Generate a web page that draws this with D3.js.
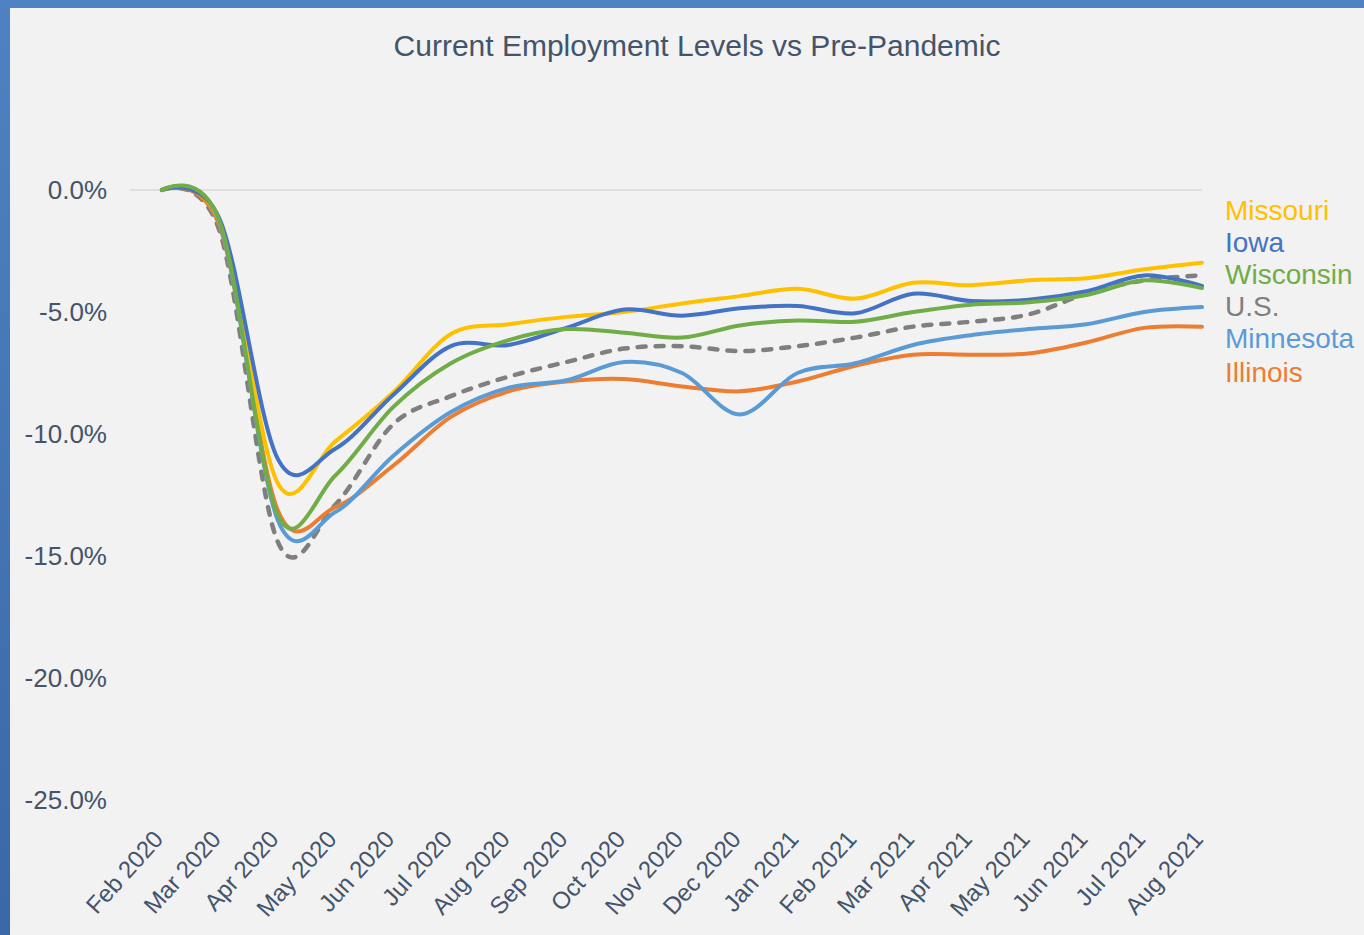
<!DOCTYPE html>
<html>
<head>
<meta charset="utf-8">
<script src="https://cdn.jsdelivr.net/npm/d3@7"></script>
<style>
  body { margin: 0; overflow: hidden; }
  svg { display: block; font-family: "Liberation Sans", Arial, sans-serif; }
</style>
</head>
<body>
<div id="chart"></div>
<script>
// Chart size
const width = 1364, height = 935;

// Data (percent change vs Feb 2020)
const months = ["Feb 2020", "Mar 2020", "Apr 2020", "May 2020", "Jun 2020", "Jul 2020",
  "Aug 2020", "Sep 2020", "Oct 2020", "Nov 2020", "Dec 2020", "Jan 2021", "Feb 2021",
  "Mar 2021", "Apr 2021", "May 2021", "Jun 2021", "Jul 2021", "Aug 2021"];

const missouri  = [0, -1.3, -12.0, -10.3, -8.3, -5.9, -5.5, -5.2, -5.0, -4.65, -4.35, -4.05, -4.45, -3.8, -3.9, -3.7, -3.62, -3.25, -2.98];
const iowa      = [0, -1.2, -11.0, -10.6, -8.4, -6.4, -6.35, -5.65, -4.9, -5.15, -4.85, -4.75, -5.05, -4.25, -4.55, -4.5, -4.15, -3.5, -3.93];
const wisconsin = [0, -1.3, -13.3, -11.7, -8.9, -7.1, -6.15, -5.7, -5.85, -6.05, -5.55, -5.35, -5.4, -5.0, -4.7, -4.6, -4.3, -3.7, -4.02];
const us        = [0, -1.7, -14.4, -12.9, -9.6, -8.45, -7.65, -7.05, -6.5, -6.4, -6.6, -6.4, -6.05, -5.6, -5.4, -5.1, -4.25, -3.7, -3.5];
const minnesota = [0, -1.4, -13.5, -13.2, -10.9, -9.1, -8.1, -7.8, -7.05, -7.5, -9.2, -7.5, -7.1, -6.35, -5.95, -5.7, -5.5, -5.0, -4.8];
const illinois  = [0, -1.5, -13.1, -13.0, -11.3, -9.3, -8.25, -7.85, -7.75, -8.05, -8.25, -7.85, -7.2, -6.75, -6.75, -6.7, -6.25, -5.65, -5.6];

const yTicks = [0, -5, -10, -15, -20, -25];

// Series in drawing order (bottom first)
const series = [
  { name: "U.S.", values: us, color: "#7f7f7f", dashed: true },
  { name: "Illinois", values: illinois, color: "#ed7d31" },
  { name: "Minnesota", values: minnesota, color: "#5b9bd5" },
  { name: "Missouri", values: missouri, color: "#ffc000" },
  { name: "Iowa", values: iowa, color: "#4472c4" },
  { name: "Wisconsin", values: wisconsin, color: "#70ad47" }
];

// Legend order and baselines on the right
const legendOrder = ["Missouri", "Iowa", "Wisconsin", "U.S.", "Minnesota", "Illinois"];
const legendBaselines = [220, 252, 284, 316, 348, 382];

const textColor = "#44546a";

const svg = d3.select("#chart").append("svg")
  .attr("width", width)
  .attr("height", height);

// Blue backdrop and grey panel
const grad = svg.append("defs").append("linearGradient")
  .attr("id", "bg").attr("x1", 0).attr("y1", 0).attr("x2", 0).attr("y2", 1);
grad.append("stop").attr("offset", "0%").attr("stop-color", "#4f82c2");
grad.append("stop").attr("offset", "100%").attr("stop-color", "#3a68a6");
svg.append("rect").attr("width", width).attr("height", height).attr("fill", "url(#bg)");
svg.append("rect").attr("x", 10).attr("y", 8)
  .attr("width", width - 10).attr("height", height - 8).attr("fill", "#f2f2f2");

// Title
svg.append("text")
  .attr("x", 697)
  .attr("y", 56)
  .attr("text-anchor", "middle")
  .attr("fill", textColor)
  .style("font-size", "30px")
  .text("Current Employment Levels vs Pre-Pandemic");

// Scales
const x = d3.scalePoint().domain(months).range([162, 1202]);
const y = d3.scaleLinear().domain([-25, 0]).range([800, 190]);

// Zero gridline
svg.append("line")
  .attr("x1", 130).attr("x2", 1202)
  .attr("y1", y(0)).attr("y2", y(0))
  .attr("stroke", "#d9d9d9")
  .attr("stroke-width", 1.5);

// Y axis
const yAxis = svg.append("g")
  .attr("transform", "translate(107,0)")
  .call(d3.axisLeft(y).tickValues(yTicks).tickSize(0).tickPadding(0)
    .tickFormat(d => d.toFixed(1) + "%"));
yAxis.select(".domain").remove();
yAxis.selectAll("text")
  .attr("fill", textColor)
  .style("font-size", "26px")
  .style("font-family", "'Liberation Sans', Arial, sans-serif");

// X axis
const xAxis = svg.append("g")
  .attr("transform", "translate(0,832)")
  .call(d3.axisBottom(x).tickSize(0).tickPadding(0));
xAxis.select(".domain").remove();
xAxis.selectAll("text")
  .attr("x", 0).attr("y", 0).attr("dy", 0)
  .attr("transform", "translate(2,8) rotate(-48)")
  .attr("text-anchor", "end")
  .attr("fill", textColor)
  .style("font-size", "24px")
  .style("font-family", "'Liberation Sans', Arial, sans-serif");

// Lines (smoothed like the spreadsheet chart)
const line = d3.line()
  .x((d, i) => x(months[i]))
  .y(d => y(d))
  .curve(d3.curveCardinal.tension(0));

svg.append("g")
  .selectAll("path")
  .data(series)
  .enter()
  .append("path")
  .attr("d", d => line(d.values))
  .attr("fill", "none")
  .attr("stroke", d => d.color)
  .attr("stroke-width", d => d.dashed ? 4.5 : 4)
  .attr("stroke-linecap", "round")
  .attr("stroke-linejoin", "round")
  .attr("stroke-dasharray", d => d.dashed ? "8,10" : null);

// Right-hand labels
svg.append("g")
  .selectAll("text")
  .data(legendOrder)
  .enter()
  .append("text")
  .attr("x", 1225)
  .attr("y", (d, i) => legendBaselines[i])
  .attr("fill", d => series.find(s => s.name === d).color)
  .style("font-size", "28px")
  .text(d => d);
</script>
</body>
</html>
